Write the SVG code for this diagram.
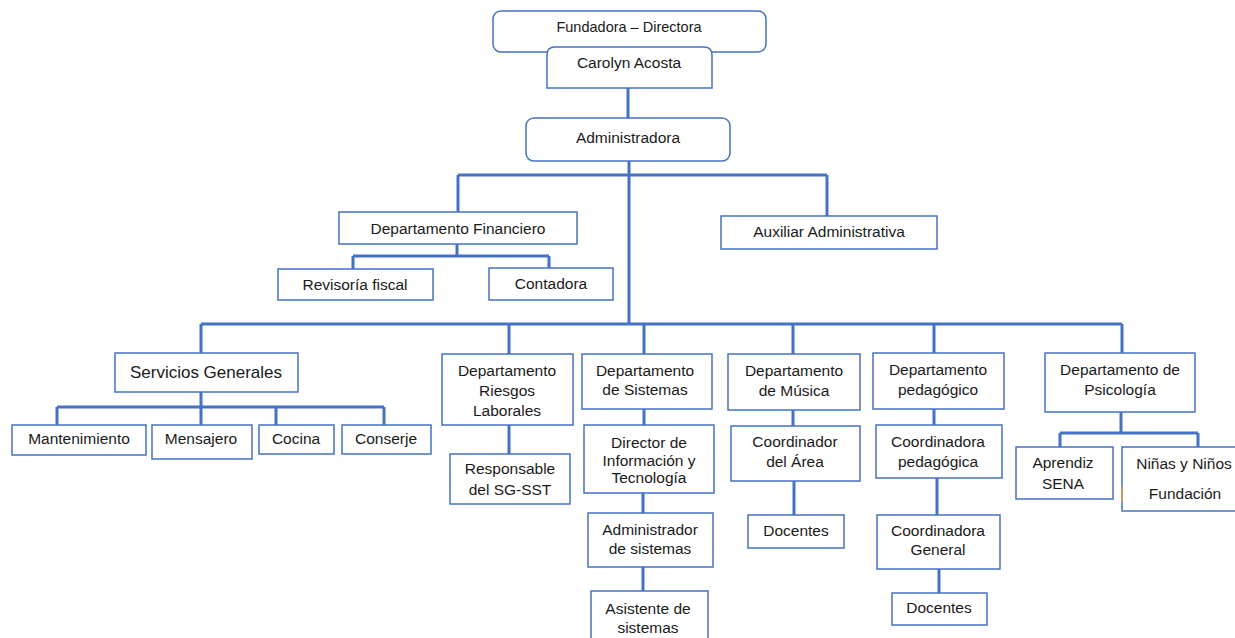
<svg xmlns="http://www.w3.org/2000/svg" width="1235" height="638" viewBox="0 0 1235 638">
<style>
.b{fill:#fff;stroke:#4472C4;stroke-width:1.5}
.t{font-family:"Liberation Sans",Arial,sans-serif;font-size:15.5px;fill:#1a1a1a;text-anchor:middle}
.c{fill:none;stroke:#4472C4;stroke-width:3}
</style>
<rect width="1235" height="638" fill="#fff"/>
<g id="connectors" class="c">
<path d="M628 88V118M629 161V324M458 175H827M458 175V212M827 175V216"/>
<path d="M457 244V256M353 256H549M353 256V269M549 256V268"/>
<path d="M201 324H1122M201 324V353M509 324V354M644 324V354M793 324V354M934 324V353M1122 324V353"/>
<path d="M201 392V407M57 407H384M57 407V425M201 407V425M276 407V425M384 407V425"/>
<path d="M509 425V454M644 409V425M643 493V513M643 567V591"/>
<path d="M793 410V426M794 481V515M934 409V425M937 478V515M939 569V593"/>
<path d="M1121 412V433M1060 433H1198M1060 433V447M1198 433V447"/>
</g>
<g id="fundadora"><rect class="b" x="493" y="11" width="273" height="41" rx="8"/><text class="t" x="629" y="32" style="font-size:14.5px">Fundadora – Directora</text></g>
<g id="carolyn"><path class="b" d="M547 88V55Q547 47 555 47H704Q712 47 712 55V88Z"/><text class="t" x="629" y="67.5">Carolyn Acosta</text></g>
<g id="administradora"><rect class="b" x="526" y="118" width="204" height="43" rx="8"/><text class="t" x="628" y="142.5">Administradora</text></g>
<g id="financiero"><rect class="b" x="339" y="212" width="238" height="32"/><text class="t" x="458" y="233.5">Departamento Financiero</text></g>
<g id="auxiliar"><rect class="b" x="721" y="216" width="216" height="33"/><text class="t" x="829" y="236.5">Auxiliar Administrativa</text></g>
<g id="revisoria"><rect class="b" x="278" y="269" width="155" height="31"/><text class="t" x="355" y="290">Revisoría fiscal</text></g>
<g id="contadora"><rect class="b" x="489" y="268" width="124" height="32"/><text class="t" x="551" y="289">Contadora</text></g>
<g id="servicios"><rect class="b" x="115" y="353" width="183" height="39"/><text class="t" x="206" y="378" style="font-size:17px">Servicios Generales</text></g>
<g id="mantenimiento"><rect class="b" x="12" y="425" width="134" height="30"/><text class="t" x="79" y="443.5">Mantenimiento</text></g>
<g id="mensajero"><rect class="b" x="152" y="425" width="100" height="34"/><text class="t" x="201" y="443.5">Mensajero</text></g>
<g id="cocina"><rect class="b" x="259" y="425" width="75" height="29"/><text class="t" x="296" y="443.5">Cocina</text></g>
<g id="conserje"><rect class="b" x="342" y="425" width="89" height="29"/><text class="t" x="386" y="443.5">Conserje</text></g>
<g id="riesgos"><rect class="b" x="442" y="354" width="131" height="71"/><text class="t" x="507" y="375.5">Departamento</text><text class="t" x="507" y="395.5">Riesgos</text><text class="t" x="507" y="415.5">Laborales</text></g>
<g id="responsable"><rect class="b" x="450" y="454" width="120" height="50"/><text class="t" x="510" y="473.5">Responsable</text><text class="t" x="510" y="494.5">del SG-SST</text></g>
<g id="sistemas"><rect class="b" x="582" y="354" width="130" height="55"/><text class="t" x="645" y="375.5">Departamento</text><text class="t" x="645" y="394.5">de Sistemas</text></g>
<g id="director"><rect class="b" x="584" y="425" width="130" height="68"/><text class="t" x="649" y="447.5">Director de</text><text class="t" x="649" y="465.5">Información y</text><text class="t" x="649" y="482.5">Tecnología</text></g>
<g id="adminsistemas"><rect class="b" x="588" y="513" width="125" height="54"/><text class="t" x="650" y="534.5">Administrador</text><text class="t" x="650" y="553.5">de sistemas</text></g>
<g id="asistente"><rect class="b" x="591" y="591" width="117" height="55"/><text class="t" x="648" y="613.5">Asistente de</text><text class="t" x="648" y="632.5">sistemas</text></g>
<g id="musica"><rect class="b" x="728" y="354" width="132" height="56"/><text class="t" x="794" y="375.5">Departamento</text><text class="t" x="794" y="395.5">de Música</text></g>
<g id="coordinador"><rect class="b" x="731" y="426" width="129" height="55"/><text class="t" x="795" y="446.5">Coordinador</text><text class="t" x="795" y="466.5">del Área</text></g>
<g id="docentes1"><rect class="b" x="748" y="515" width="96" height="33"/><text class="t" x="796" y="535.5">Docentes</text></g>
<g id="pedagogico"><rect class="b" x="873" y="353" width="131" height="56"/><text class="t" x="938" y="374.5">Departamento</text><text class="t" x="938" y="394.5">pedagógico</text></g>
<g id="coordpedagogica"><rect class="b" x="876" y="425" width="126" height="53"/><text class="t" x="938" y="446.5">Coordinadora</text><text class="t" x="938" y="466.5">pedagógica</text></g>
<g id="coordgeneral"><rect class="b" x="877" y="515" width="123" height="54"/><text class="t" x="938" y="535.5">Coordinadora</text><text class="t" x="938" y="554.5">General</text></g>
<g id="docentes2"><rect class="b" x="892" y="593" width="95" height="32"/><text class="t" x="939" y="612.5">Docentes</text></g>
<g id="psicologia"><rect class="b" x="1045" y="353" width="150" height="59"/><text class="t" x="1120" y="374.5">Departamento de</text><text class="t" x="1120" y="394.5">Psicología</text></g>
<g id="aprendiz"><rect class="b" x="1016" y="447" width="97" height="52"/><text class="t" x="1063" y="467.5">Aprendiz</text><text class="t" x="1063" y="488.5">SENA</text></g>
<g id="ninas"><rect class="b" x="1122" y="447" width="116" height="64"/><line x1="1122" y1="487" x2="1122" y2="502" stroke="#D9A040" stroke-width="1.5"/><text class="t" x="1184" y="468.5">Niñas y Niños</text><text class="t" x="1185" y="498.5">Fundación</text></g>
</svg>
